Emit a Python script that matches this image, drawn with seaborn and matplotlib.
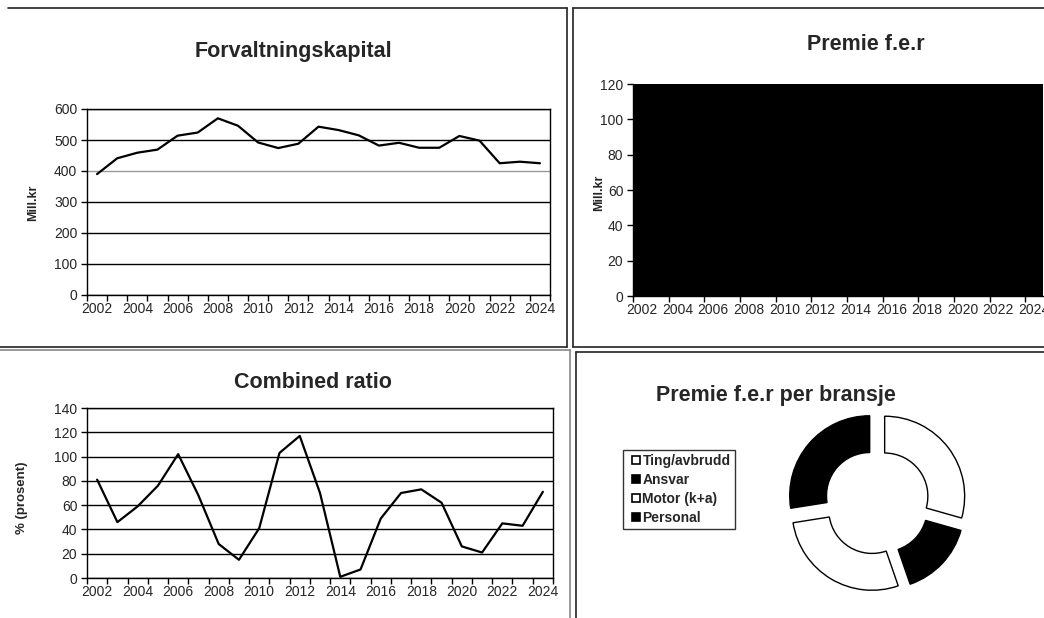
import numpy as np
import seaborn as sns
import matplotlib.pyplot as plt
from matplotlib.lines import Line2D

# data
years = list(range(2002, 2025))
forvaltning = [390, 441, 459, 469, 514, 524, 570, 546, 492, 474, 488, 543,
               532, 515, 482, 491, 475, 475, 513, 498, 425, 430, 425]
premie = [120, 120, 120, 120, 120, 120, 120, 120, 120, 120, 120, 120,
          120, 120, 120, 120, 120, 120, 120, 120, 120, 120, 120]
combined = [81, 46, 59, 76, 102, 68, 28, 15, 41, 103, 117, 70,
            1, 7, 49, 70, 73, 62, 26, 21, 45, 43, 71]
bransjer = ["Ting/avbrudd", "Ansvar", "Motor (k+a)", "Personal"]
andel = [29.4, 15.3, 27.8, 27.5]
bransje_farger = ["white", "black", "white", "black"]

sns.set_style("white")
plt.rcParams['font.family'] = ['Liberation Sans', 'DejaVu Sans']

W, H = 1044, 618
fig = plt.figure(figsize=(W / 100, H / 100), dpi=100)
TITLE = 15.5
TICK = 10


def px_axes(l, t, r, b):
    return fig.add_axes([l / W, 1 - b / H, (r - l) / W, (b - t) / H])


def px_text(x, y, s, **kw):
    fig.text(x / W, 1 - y / H, s, ha='center', va='center', **kw)


def px_line(x0, y0, x1, y1, color='#222222', lw=1.2):
    fig.add_artist(Line2D([x0 / W, x1 / W], [1 - y0 / H, 1 - y1 / H],
                          transform=fig.transFigure, color=color, lw=lw))


def style_axes(ax, yticks):
    for s in ax.spines.values():
        s.set_color('black')
        s.set_linewidth(1)
    ax.set_yticks(yticks)
    ax.set_ylim(yticks[0], yticks[-1])
    ax.tick_params(axis='y', which='major', length=4, width=1, direction='out',
                   labelsize=TICK, pad=3, left=True, color='black')
    ax.tick_params(axis='x', which='major', length=0, labelsize=TICK, pad=5)
    ax.tick_params(axis='x', which='minor', length=4, width=1, direction='out',
                   bottom=True, color='black')
    ax.set_xlabel('')
    ax.set_ylabel('')


# --- Forvaltningskapital ---
ax1 = px_axes(87, 109, 550, 295)
ax1.yaxis.grid(True, color='black', linewidth=1)
ax1.set_axisbelow(True)
sns.lineplot(x=years, y=forvaltning, ax=ax1, color='black', linewidth=1.6)
style_axes(ax1, [0, 100, 200, 300, 400, 500, 600])
ax1.get_ygridlines()[4].set_color('#999999')
ax1.set_xlim(2001.5, 2024.5)
ax1.set_xticks(years[::2])
ax1.set_xticks(np.arange(2001.5, 2025, 1), minor=True)
px_text(293, 52, "Forvaltningskapital", fontsize=TITLE, fontweight='bold')
px_text(33, 203, "Mill.kr", fontsize=9, fontweight='bold', rotation=90)

# --- Premie f.e.r ---
ax2 = px_axes(633, 84, 1043, 296)
sns.barplot(x=[str(y) for y in years], y=premie, ax=ax2, color='black',
            width=1.0, edgecolor='black', linewidth=1.5, saturation=1)
style_axes(ax2, [0, 20, 40, 60, 80, 100, 120])
ax2.set_xlim(-0.5, 22.5)
ax2.set_xticks(range(0, 23, 2))
ax2.set_xticklabels([str(y) for y in years[::2]])
ax2.set_xticks(np.arange(-0.5, 22, 2), minor=True)
ax2.spines['top'].set_visible(False)
ax2.spines['right'].set_visible(False)
px_text(866, 45, "Premie f.e.r", fontsize=TITLE, fontweight='bold')
px_text(599, 193, "Mill.kr", fontsize=9, fontweight='bold', rotation=90)

# --- Combined ratio ---
ax3 = px_axes(87, 408, 553, 578)
ax3.yaxis.grid(True, color='black', linewidth=1)
ax3.set_axisbelow(True)
sns.lineplot(x=years, y=combined, ax=ax3, color='black', linewidth=1.6)
style_axes(ax3, [0, 20, 40, 60, 80, 100, 120, 140])
ax3.set_xlim(2001.5, 2024.5)
ax3.set_xticks(years[::2])
ax3.set_xticks(np.arange(2001.5, 2025, 1), minor=True)
px_text(313, 383, "Combined ratio", fontsize=TITLE, fontweight='bold')
px_text(22, 498, "% (prosent)", fontsize=9.5, fontweight='bold', rotation=90)

# --- Premie f.e.r per bransje ---
ax4 = px_axes(777, 402, 977, 602)
ax4.pie(andel, colors=bransje_farger, explode=[0.12] * 4, startangle=90,
        counterclock=False,
        wedgeprops=dict(width=0.46, edgecolor='black', linewidth=1))
ax4.set_xlim(-1.25, 1.25)
ax4.set_ylim(-1.25, 1.25)
px_text(776, 395, "Premie f.e.r per bransje", fontsize=TITLE, fontweight='bold')

handles = [Line2D([], [], marker='s', linestyle='none', markersize=5.5,
                  markerfacecolor=c, markeredgecolor='black', markeredgewidth=1.2)
           for c in bransje_farger]
leg = fig.legend(handles, bransjer, loc='upper left',
                 bbox_to_anchor=(623 / W, 1 - 450 / H),
                 frameon=True, fancybox=False, edgecolor='black',
                 prop={'weight': 'bold', 'size': 10},
                 handlelength=1.2, handletextpad=-0.1, borderpad=0.3,
                 labelspacing=0.35, borderaxespad=0)
leg.get_frame().set_linewidth(1)

# panel borders
px_line(8, 8, 567, 8)
px_line(567, 8, 567, 347)
px_line(0, 347, 567, 347)
px_line(573, 8, 1044, 8)
px_line(573, 8, 573, 347)
px_line(573, 347, 1044, 347)
px_line(0, 350, 570, 350, color='#888888')
px_line(570, 350, 570, 618, color='#888888')
px_line(576, 352, 1044, 352)
px_line(576, 352, 576, 618)

fig.savefig('out.png', dpi=100)
